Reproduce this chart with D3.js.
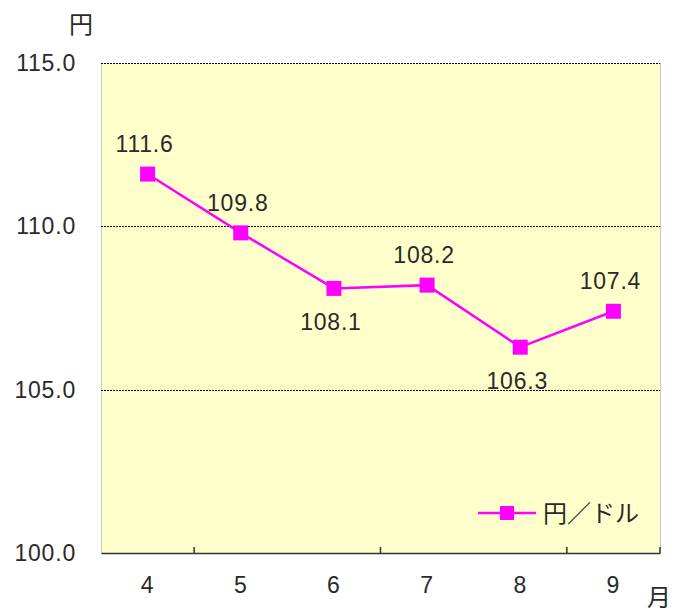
<!DOCTYPE html>
<html><head><meta charset="utf-8">
<script src="https://cdn.jsdelivr.net/npm/d3@7"></script>
<style>
body{margin:0;background:#fff;}
text{font-family:"Liberation Sans","Noto Sans CJK JP",sans-serif;fill:#2a2a2a;}
</style></head>
<body><svg id="c" width="680" height="612"></svg>
<script>
const months = ["4","5","6","7","8","9"];
const values = [111.6,109.8,108.1,108.2,106.3,107.4];
const labelPos = ["above","above","below","above","below","above"];
const yTicks = [100,105,110,115];
const seriesName = "円／ドル";
const yUnit = "円";
const xUnit = "月";

const svg = d3.select("#c");
const L=101,R=660,T=63,B=553;
const x = d3.scaleBand().domain(months).range([L,R]).padding(0);
const y = d3.scaleLinear().domain([100,115]).range([B,T]);
const fs = 23;

svg.append("rect").attr("x",L).attr("y",T).attr("width",R-L).attr("height",B-T).attr("fill","#ffffcc");
// borders
svg.append("line").attr("x1",L+0.5).attr("x2",L+0.5).attr("y1",T).attr("y2",B).attr("stroke","#c8c8c0").attr("stroke-width",1);
svg.append("line").attr("x1",R+0.5).attr("x2",R+0.5).attr("y1",T).attr("y2",B).attr("stroke","#c8c8c0").attr("stroke-width",1);
// gridlines
svg.selectAll(".grid").data(yTicks.filter(d=>d>100)).enter().append("line")
  .attr("x1",L).attr("x2",R).attr("y1",d=>Math.round(y(d))+0.5).attr("y2",d=>Math.round(y(d))+0.5)
  .attr("stroke","#000").attr("stroke-width",1).attr("stroke-dasharray","2,1");
// x axis
const xAxis = d3.axisBottom(x).tickSizeInner(0).tickSizeOuter(0).tickPadding(24);
const gx = svg.append("g").attr("transform",`translate(0,${B})`).call(xAxis);
gx.select(".domain").attr("stroke","#333").attr("stroke-width",1.5);
gx.selectAll("text").attr("font-size",fs).attr("font-family",null).attr("fill",null).attr("letter-spacing","0.8");
// inward ticks at some category boundaries
const tickIdx=[1,3,5,6];
svg.selectAll(".xt").data(tickIdx).enter().append("line")
  .attr("x1",i=>L+i*x.bandwidth()).attr("x2",i=>L+i*x.bandwidth())
  .attr("y1",B).attr("y2",B-6).attr("stroke","#333").attr("stroke-width",1.5);
// y axis labels
const yAxis = d3.axisLeft(y).tickValues(yTicks).tickFormat(d3.format(".1f")).tickSize(0).tickPadding(25);
const gy = svg.append("g").attr("transform",`translate(${L},0)`).call(yAxis);
gy.select(".domain").remove();
gy.selectAll("text").attr("font-size",fs).attr("font-family",null).attr("fill",null).attr("letter-spacing","0.8");

// line
const cx = d=>x(d)+x.bandwidth()/2;
const line = d3.line().x((d,i)=>cx(months[i])).y(d=>y(d));
svg.append("path").datum(values).attr("d",line).attr("fill","none").attr("stroke","#ff00ff").attr("stroke-width",2.5);
const ms=15;
svg.selectAll(".pt").data(values).enter().append("rect")
  .attr("x",(d,i)=>cx(months[i])-ms/2).attr("y",d=>y(d)-ms/2).attr("width",ms).attr("height",ms).attr("fill","#ff00ff");
svg.selectAll(".lbl").data(values).enter().append("text")
  .attr("x",(d,i)=>cx(months[i])-3).attr("y",(d,i)=>labelPos[i]==="above"? y(d)-22 : y(d)+42)
  .attr("text-anchor","middle").attr("font-size",fs).attr("letter-spacing","0.8").text(d=>d.toFixed(1));

// units
svg.append("text").attr("x",81).attr("y",33).attr("text-anchor","middle").attr("font-size",24).text(yUnit);
svg.append("text").attr("x",659).attr("y",606).attr("text-anchor","middle").attr("font-size",24).text(xUnit);

// legend
const ly=513;
svg.append("line").attr("x1",478).attr("x2",536).attr("y1",ly).attr("y2",ly).attr("stroke","#ff00ff").attr("stroke-width",2.5);
svg.append("rect").attr("x",507-7).attr("y",ly-7).attr("width",14).attr("height",14).attr("fill","#ff00ff");
svg.append("text").attr("x",543).attr("y",ly+9).attr("font-size",24).text(seriesName);
</script></body></html>
